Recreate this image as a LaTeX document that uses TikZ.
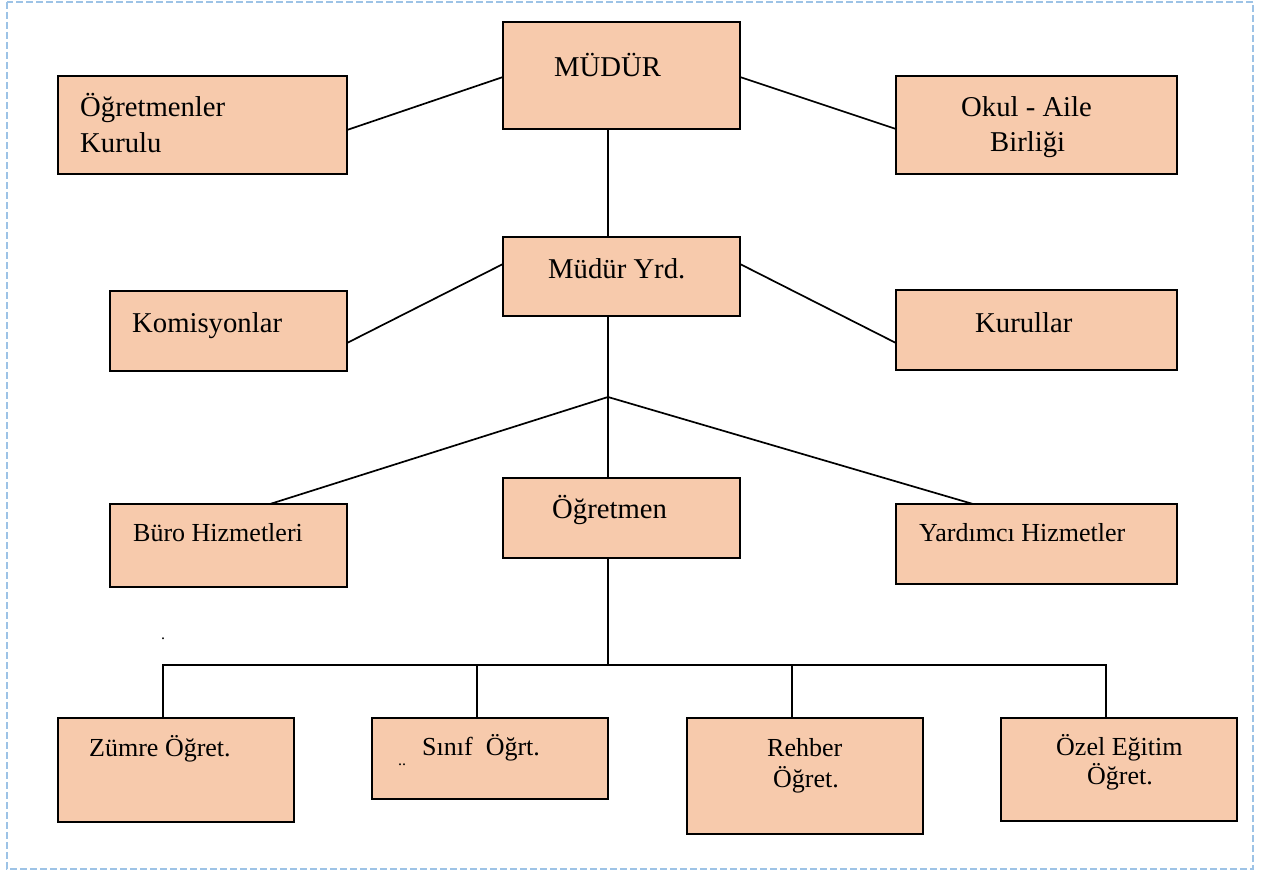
\documentclass[tikz,border=0pt]{standalone}
\usepackage{fontspec}
\setmainfont{Liberation Serif}
\usetikzlibrary{calc}
\definecolor{boxfill}{HTML}{F7CAAC}
\definecolor{frameblue}{HTML}{9DC3E6}
\begin{document}
\begin{tikzpicture}[x=1pt,y=-1pt,
  orgbox/.style={draw=black, line width=2.2pt, fill=boxfill, anchor=north west,
    inner sep=0pt, outer sep=0pt, rectangle},
  conn/.style={draw=black, line width=1.7pt},
  bigtxt/.style={anchor=base west, inner sep=0pt, font=\fontsize{28.7}{34}\selectfont},
  smalltxt/.style={anchor=base west, inner sep=0pt, font=\fontsize{26}{31}\selectfont},
  dottxt/.style={anchor=base west, inner sep=0pt, font=\fontsize{16}{18}\selectfont}]
\useasboundingbox (0,0) rectangle (1263,872);
\draw[frameblue, line width=2.6pt, dash pattern=on 7pt off 3pt] (7,2) rectangle (1253,869);

% boxes
\node[orgbox, minimum width=289pt, minimum height=98pt]  (ok)   at (58,76) {};
\node[orgbox, minimum width=237pt, minimum height=107pt] (mud)  at (503,22) {};
\node[orgbox, minimum width=281pt, minimum height=98pt]  (oab)  at (896,76) {};
\node[orgbox, minimum width=237pt, minimum height=79pt]  (yrd)  at (503,237) {};
\node[orgbox, minimum width=237pt, minimum height=80pt]  (kom)  at (110,291) {};
\node[orgbox, minimum width=281pt, minimum height=80pt]  (kur)  at (896,290) {};
\node[orgbox, minimum width=237pt, minimum height=83pt]  (buro) at (110,504) {};
\node[orgbox, minimum width=237pt, minimum height=80pt]  (ogr)  at (503,478) {};
\node[orgbox, minimum width=281pt, minimum height=80pt]  (yard) at (896,504) {};
\node[orgbox, minimum width=236pt, minimum height=104pt] (zum)  at (58,718) {};
\node[orgbox, minimum width=236pt, minimum height=81pt]  (sin)  at (372,718) {};
\node[orgbox, minimum width=236pt, minimum height=116pt] (reh)  at (687,718) {};
\node[orgbox, minimum width=236pt, minimum height=103pt] (oze)  at (1001,718) {};

% texts
\node[bigtxt] (t-ok1) at (80,117) {Öğretmenler};
\node[bigtxt] (t-ok2) at (80,152) {Kurulu};
\node[bigtxt] (t-mud) at (554,77) {MÜDÜR};
\node[bigtxt] (t-oab1) at (961,117) {Okul - Aile};
\node[bigtxt] (t-oab2) at (990,151) {Birliği};
\node[bigtxt] (t-yrd) at (548,278) {Müdür Yrd.};
\node[bigtxt] (t-kom) at (132,332) {Komisyonlar};
\node[bigtxt] (t-kur) at (975,332) {Kurullar};
\node[bigtxt] (t-ogr) at (552,518) {Öğretmen};
\node[smalltxt] (t-buro) at (133,541) {Büro Hizmetleri};
\node[smalltxt] (t-yard) at (919,541) {Yardımcı Hizmetler};
\node[smalltxt] (t-zum) at (89,756) {Zümre Öğret.};
\node[smalltxt] (t-sin) at (422,755) {Sınıf\ \ Öğrt.};
\node[dottxt] (t-dd) at (398,765) {..};
\node[smalltxt] (t-reh1) at (767,756) {Rehber};
\node[smalltxt] (t-reh2) at (773,787) {Öğret.};
\node[smalltxt] (t-oze1) at (1056,755) {Özel Eğitim};
\node[smalltxt] (t-oze2) at (1087,784) {Öğret.};
\node[dottxt] (t-dot) at (161,639) {.};

% connectors
\draw[conn] ($(ok.north east)+(0,54)$) -- ($(mud.north west)+(0,55)$);
\draw[conn] ($(mud.north east)+(0,55)$) -- ($(oab.north west)+(0,53)$);
\draw[conn] ($(mud.south west)+(105,0)$) -- ($(yrd.north west)+(105,0)$);
\draw[conn] ($(yrd.north west)+(0,27)$) -- ($(kom.north east)+(0,52)$);
\draw[conn] ($(yrd.north east)+(0,27)$) -- ($(kur.north west)+(0,53)$);
\coordinate (j) at (608,397);
\draw[conn] ($(yrd.south west)+(105,0)$) -- (j) -- ($(ogr.north west)+(105,0)$);
\draw[conn] (j) -- ($(buro.north west)+(160,0)$);
\draw[conn] (j) -- ($(yard.north west)+(77,0)$);
\coordinate (bus) at (608,665);
\draw[conn] ($(ogr.south west)+(105,0)$) -- (bus);
\draw[conn] ($(zum.north west)+(105,0)$) |- (bus) -| ($(oze.north west)+(105,0)$);
\draw[conn] ($(sin.north west)+(105,0)$) -- ++(0,-53);
\draw[conn] ($(reh.north west)+(105,0)$) -- ++(0,-53);
\end{tikzpicture}
\end{document}
